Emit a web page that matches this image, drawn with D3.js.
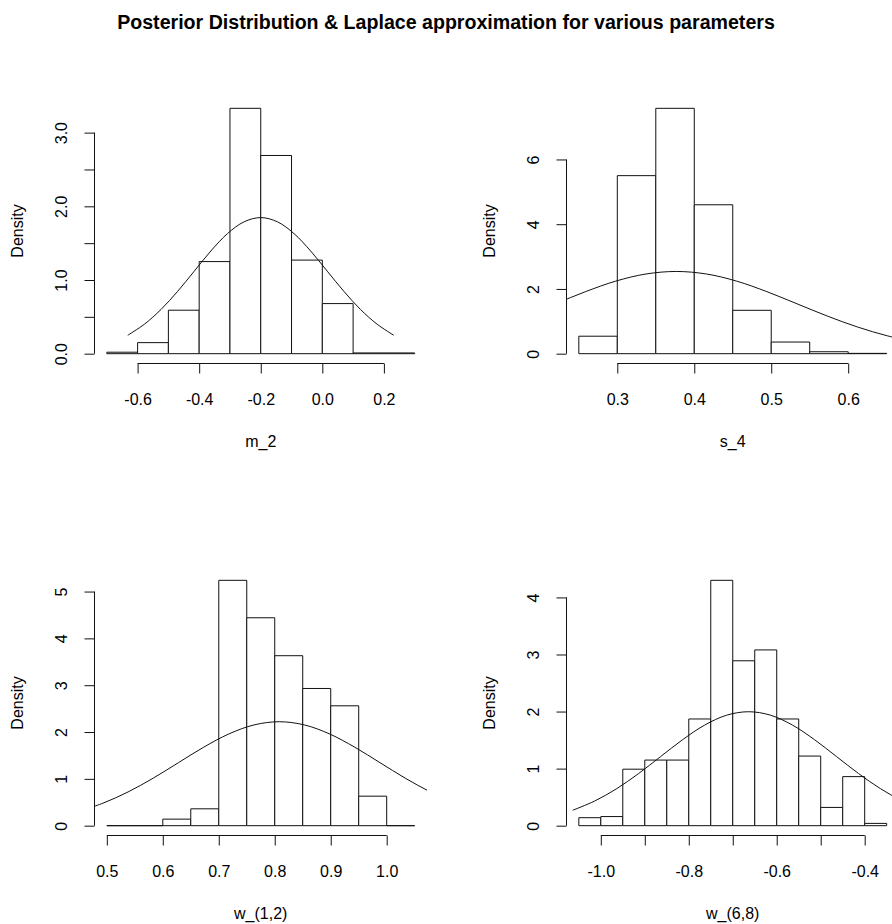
<!DOCTYPE html>
<html>
<head>
<meta charset="utf-8">
<script src="https://cdn.jsdelivr.net/npm/d3@7"></script>
<style>
  html, body { margin: 0; padding: 0; background: #fff; }
  svg { display: block; font-family: "Liberation Sans", Arial, Helvetica, sans-serif; }
</style>
</head>
<body>
<svg id="chart" width="892" height="924"></svg>
<script>
// ---------------- DATA ----------------
const chartTitle = "Posterior Distribution & Laplace approximation for various parameters";
const paramNames = ["m_2", "s_4", "w_(1,2)", "w_(6,8)"];

// histogram breaks and densities
const m2Breaks = [-0.7, -0.6, -0.5, -0.4, -0.3, -0.2, -0.1, 0.0, 0.1, 0.2, 0.3];
const m2Density = [0.02, 0.15, 0.59, 1.25, 3.33, 2.69, 1.27, 0.68, 0.01, 0.01];

const s4Breaks = [0.25, 0.30, 0.35, 0.40, 0.45, 0.50, 0.55, 0.60, 0.65];
const s4Density = [0.54, 5.50, 7.58, 4.60, 1.34, 0.36, 0.06, 0.01];

const w12Breaks = [0.50, 0.55, 0.60, 0.65, 0.70, 0.75, 0.80, 0.85, 0.90, 0.95, 1.00, 1.05];
const w12Density = [0, 0, 0.14, 0.36, 5.24, 4.44, 3.63, 2.93, 2.56, 0.63, 0];

const w68Breaks = [-1.05, -1.00, -0.95, -0.90, -0.85, -0.80, -0.75, -0.70, -0.65, -0.60, -0.55, -0.50, -0.45, -0.40, -0.35];
const w68Density = [0.14, 0.16, 0.99, 1.15, 1.15, 1.87, 4.30, 2.89, 3.08, 1.87, 1.22, 0.32, 0.86, 0.04];

// Laplace approximation curves
const m2CurveX = [-0.632, -0.578, -0.524, -0.470, -0.416, -0.362, -0.308, -0.254, -0.200, -0.146, -0.092, -0.038, 0.016, 0.070, 0.124, 0.178, 0.232];
const m2CurveY = [0.250, 0.400, 0.600, 0.846, 1.120, 1.394, 1.630, 1.790, 1.847, 1.790, 1.630, 1.394, 1.120, 0.846, 0.600, 0.400, 0.250];

const s4CurveX = [0.0625, 0.1018, 0.1410, 0.1803, 0.2195, 0.2588, 0.2980, 0.3373, 0.3765, 0.4158, 0.4550, 0.4943, 0.5335, 0.5728, 0.6120, 0.6513, 0.6905];
const s4CurveY = [0.344, 0.549, 0.825, 1.163, 1.541, 1.917, 2.242, 2.462, 2.540, 2.462, 2.242, 1.917, 1.541, 1.163, 0.825, 0.549, 0.344];

const w12CurveX = [0.448, 0.493, 0.538, 0.583, 0.628, 0.673, 0.718, 0.763, 0.808, 0.853, 0.898, 0.943, 0.988, 1.033, 1.078, 1.123, 1.168];
const w12CurveY = [0.300, 0.480, 0.721, 1.016, 1.346, 1.676, 1.959, 2.152, 2.220, 2.152, 1.959, 1.676, 1.346, 1.016, 0.721, 0.480, 0.300];

const w68CurveX = [-1.064, -1.014, -0.964, -0.914, -0.864, -0.814, -0.764, -0.714, -0.664, -0.614, -0.564, -0.514, -0.464, -0.414, -0.364, -0.314, -0.264];
const w68CurveY = [0.270, 0.432, 0.648, 0.914, 1.211, 1.507, 1.762, 1.936, 1.997, 1.936, 1.762, 1.507, 1.211, 0.914, 0.648, 0.432, 0.270];

// ticks and tick labels
const m2XTicks = [-0.6, -0.4, -0.2, 0.0, 0.2];
const m2XLabels = ["-0.6", "-0.4", "-0.2", "0.0", "0.2"];
const m2YTicks = [0, 0.5, 1.0, 1.5, 2.0, 2.5, 3.0];
const m2YLabels = ["0.0", "", "1.0", "", "2.0", "", "3.0"];

const s4XTicks = [0.3, 0.4, 0.5, 0.6];
const s4XLabels = ["0.3", "0.4", "0.5", "0.6"];
const s4YTicks = [0, 2, 4, 6];
const s4YLabels = ["0", "2", "4", "6"];

const w12XTicks = [0.5, 0.6, 0.7, 0.8, 0.9, 1.0];
const w12XLabels = ["0.5", "0.6", "0.7", "0.8", "0.9", "1.0"];
const w12YTicks = [0, 1, 2, 3, 4, 5];
const w12YLabels = ["0", "1", "2", "3", "4", "5"];

const w68XTicks = [-1.0, -0.9, -0.8, -0.7, -0.6, -0.5, -0.4];
const w68XLabels = ["-1.0", "", "-0.8", "", "-0.6", "", "-0.4"];
const w68YTicks = [0, 1, 2, 3, 4];
const w68YLabels = ["0", "1", "2", "3", "4"];

const yAxisTitle = "Density";

// ---------------- LAYOUT ----------------
const W = 892, H = 924;
const colLeft = [94.5, 566.5];
const rowTop = [98.5, 570.5];
const plotW = 332.5, plotH = 265;
const tickLen = 10;
const ink = "#111";

const panels = [
  { name: paramNames[0], breaks: m2Breaks, density: m2Density, cx: m2CurveX, cy: m2CurveY,
    xTicks: m2XTicks, xLabels: m2XLabels, yTicks: m2YTicks, yLabels: m2YLabels, col: 0, row: 0 },
  { name: paramNames[1], breaks: s4Breaks, density: s4Density, cx: s4CurveX, cy: s4CurveY,
    xTicks: s4XTicks, xLabels: s4XLabels, yTicks: s4YTicks, yLabels: s4YLabels, col: 1, row: 0 },
  { name: paramNames[2], breaks: w12Breaks, density: w12Density, cx: w12CurveX, cy: w12CurveY,
    xTicks: w12XTicks, xLabels: w12XLabels, yTicks: w12YTicks, yLabels: w12YLabels, col: 0, row: 1 },
  { name: paramNames[3], breaks: w68Breaks, density: w68Density, cx: w68CurveX, cy: w68CurveY,
    xTicks: w68XTicks, xLabels: w68XLabels, yTicks: w68YTicks, yLabels: w68YLabels, col: 1, row: 1 }
];

const svg = d3.select("#chart");
svg.append("rect").attr("width", W).attr("height", H).attr("fill", "#fff");

svg.append("text")
  .attr("x", W / 2).attr("y", 29)
  .attr("text-anchor", "middle")
  .attr("font-weight", "bold")
  .attr("font-size", 19.6)
  .attr("fill", "#000")
  .text(chartTitle);

const defs = svg.append("defs");

panels.forEach((p, i) => {
  const left = colLeft[p.col], top = rowTop[p.row];
  const b0 = p.breaks[0], bN = p.breaks[p.breaks.length - 1];
  const xr = bN - b0;
  const ymax = d3.max(p.density);
  const x = d3.scaleLinear().domain([b0 - 0.04 * xr, bN + 0.04 * xr]).range([left, left + plotW]);
  const y = d3.scaleLinear().domain([-0.04 * ymax, ymax * 1.04]).range([top + plotH, top]);
  const bottom = top + plotH;

  const g = svg.append("g");

  // bars (drawn as paths so zero-height bins still show their outline)
  const bins = p.density.map((d, k) => ({ x0: p.breaks[k], x1: p.breaks[k + 1], d }));
  g.selectAll("path.bar").data(bins).enter().append("path")
    .attr("class", "bar")
    .attr("d", b => {
      const xa = x(b.x0), xb = x(b.x1), y0 = y(0), y1 = y(b.d);
      return `M${xa},${y0}V${y1}H${xb}V${y0}Z`;
    })
    .attr("fill", "#fff")
    .attr("stroke", ink)
    .attr("stroke-width", 1);

  // clip for the curve
  const cid = "clip" + i;
  defs.append("clipPath").attr("id", cid).append("rect")
    .attr("x", left).attr("y", top).attr("width", plotW).attr("height", plotH);

  const pts = p.cx.map((v, k) => [v, p.cy[k]]);
  g.append("path")
    .datum(pts)
    .attr("clip-path", `url(#${cid})`)
    .attr("fill", "none")
    .attr("stroke", ink)
    .attr("stroke-width", 1)
    .attr("d", d3.line().x(d => x(d[0])).y(d => y(d[1])).curve(d3.curveCatmullRom.alpha(0.5)));

  // x axis
  const xa = d3.axisBottom(x).tickValues(p.xTicks).tickSize(tickLen)
    .tickFormat((d, k) => p.xLabels[k]);
  const xg = g.append("g").attr("transform", `translate(0,${bottom})`).call(xa);
  xg.select(".domain").remove();
  xg.append("line")
    .attr("x1", x(p.xTicks[0])).attr("x2", x(p.xTicks[p.xTicks.length - 1]))
    .attr("y1", 0).attr("y2", 0).attr("stroke", ink);
  xg.selectAll(".tick line").attr("stroke", ink);
  xg.selectAll(".tick text")
    .attr("y", 36).attr("dy", "0.35em")
    .attr("font-size", 16).attr("fill", "#000")
    .attr("font-family", "Liberation Sans, Arial, sans-serif");

  // y axis
  const ya = d3.axisLeft(y).tickValues(p.yTicks).tickSize(tickLen)
    .tickFormat((d, k) => p.yLabels[k]);
  const yg = g.append("g").attr("transform", `translate(${left},0)`).call(ya);
  yg.select(".domain").remove();
  yg.append("line")
    .attr("y1", y(p.yTicks[0])).attr("y2", y(p.yTicks[p.yTicks.length - 1]))
    .attr("x1", 0).attr("x2", 0).attr("stroke", ink);
  yg.selectAll(".tick line").attr("stroke", ink);
  yg.selectAll(".tick text")
    .attr("x", null).attr("dy", "0.35em")
    .attr("text-anchor", "middle")
    .attr("transform", "translate(-33,0) rotate(-90)")
    .attr("font-size", 16).attr("fill", "#000")
    .attr("font-family", "Liberation Sans, Arial, sans-serif");

  // axis titles
  g.append("text")
    .attr("x", (left + left + plotW) / 2)
    .attr("y", bottom + 78).attr("dy", "0.35em")
    .attr("text-anchor", "middle").attr("font-size", 16).attr("fill", "#000")
    .text(p.name);

  g.append("text")
    .attr("transform", `translate(${left - 77},${(top + bottom) / 2}) rotate(-90)`)
    .attr("dy", "0.35em")
    .attr("text-anchor", "middle").attr("font-size", 16).attr("fill", "#000")
    .text(yAxisTitle);
});
</script>
</body>
</html>
